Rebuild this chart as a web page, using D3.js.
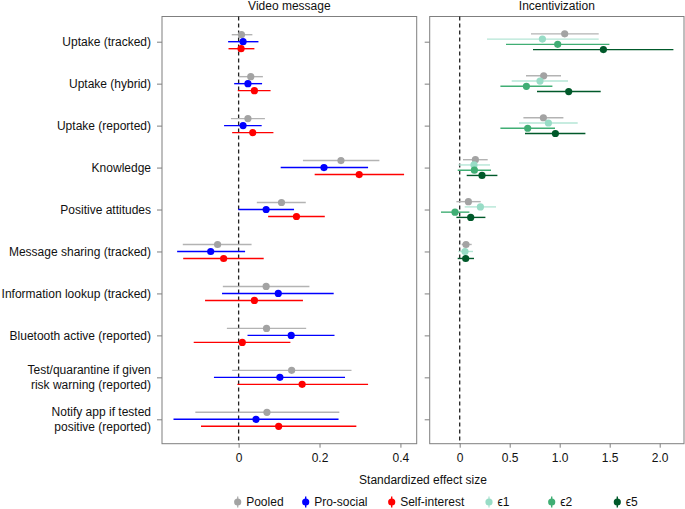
<!DOCTYPE html>
<html>
<head>
<meta charset="utf-8">
<script src="https://cdn.jsdelivr.net/npm/d3@7"></script>
<style>
  html, body { margin: 0; padding: 0; background: #fff; }
  svg { display: block; font-family: "Liberation Sans", Arial, Helvetica, sans-serif; }
</style>
</head>
<body>
<svg id="chart" width="685" height="509"></svg>
<script>
// ---------------- DATA ----------------
const categories = [
  "Uptake (tracked)", "Uptake (hybrid)", "Uptake (reported)", "Knowledge",
  "Positive attitudes", "Message sharing (tracked)", "Information lookup (tracked)",
  "Bluetooth active (reported)", "Test/quarantine if given\nrisk warning (reported)",
  "Notify app if tested\npositive (reported)"
];

// [estimate, lower, upper] per category
const videoPooled = [
  [0.007, -0.017, 0.034], [0.030, 0.000, 0.060], [0.023, -0.019, 0.065],
  [0.253, 0.159, 0.348], [0.106, 0.045, 0.166], [-0.052, -0.138, 0.032],
  [0.068, -0.039, 0.175], [0.069, -0.029, 0.167], [0.131, -0.016, 0.279],
  [0.070, -0.107, 0.249]
];
const videoProSocial = [
  [0.011, -0.026, 0.049], [0.023, -0.011, 0.058], [0.011, -0.036, 0.057],
  [0.211, 0.104, 0.320], [0.068, -0.001, 0.137], [-0.069, -0.152, 0.016],
  [0.098, -0.041, 0.235], [0.130, 0.022, 0.237], [0.102, -0.061, 0.263],
  [0.043, -0.161, 0.247]
];
const videoSelfInterest = [
  [0.006, -0.025, 0.039], [0.039, -0.002, 0.079], [0.035, -0.016, 0.086],
  [0.298, 0.188, 0.409], [0.143, 0.073, 0.213], [-0.037, -0.137, 0.062],
  [0.039, -0.083, 0.159], [0.009, -0.111, 0.128], [0.157, -0.003, 0.320],
  [0.099, -0.093, 0.291]
];

const incPooled = [
  [1.05, 0.713, 1.39], [0.84, 0.663, 1.013], [0.837, 0.637, 1.037],
  [0.157, 0.033, 0.28], [0.087, -0.033, 0.21], [0.063, 0.02, 0.12],
  null, null, null, null
];
const incE1 = [
  [0.827, 0.273, 1.39], [0.803, 0.52, 1.083], [0.887, 0.593, 1.18],
  [0.143, -0.013, 0.303], [0.207, 0.05, 0.363], [0.053, -0.013, 0.133],
  null, null, null, null
];
const incE2 = [
  [0.98, 0.463, 1.497], [0.667, 0.407, 0.927], [0.68, 0.407, 0.953],
  [0.147, -0.02, 0.313], [-0.047, -0.187, 0.097], null,
  null, null, null, null
];
const incE5 = [
  [1.437, 0.733, 2.137], [1.09, 0.773, 1.41], [0.957, 0.653, 1.257],
  [0.223, 0.07, 0.377], [0.11, -0.033, 0.257], [0.06, -0.02, 0.143],
  null, null, null, null
];

const seriesNames = ["Pooled", "Pro-social", "Self-interest", "\u03f51", "\u03f52", "\u03f55"];
const videoTicks = [0, 0.2, 0.4];
const videoTickLabels = ["0", "0.2", "0.4"];
const incTicks = [0, 0.5, 1.0, 1.5, 2.0];
const incTickLabels = ["0", "0.5", "1.0", "1.5", "2.0"];

// ---------------- STYLE ----------------
const pointColor = {
  "Pooled": "#a3a3a3", "Pro-social": "#0000ff", "Self-interest": "#ff0000",
  "\u03f51": "#98dcc6", "\u03f52": "#40ae74", "\u03f55": "#00592a"
};
const barColor = {
  "Pooled": "#b3b3b3", "Pro-social": "#0000ff", "Self-interest": "#ff0000",
  "\u03f51": "#b5e6d6", "\u03f52": "#40ae74", "\u03f55": "#00592a"
};

const svg = d3.select("#chart");
const plotTop = 16.5, plotBottom = 443.7;
const y = d3.scalePoint().domain(d3.range(categories.length)).range([41.7, 419.3]);
const dodge = 21;
const frameColor = "#7f7f7f";
const fs = 12;

function panel(cfg) {
  const g = svg.append("g");
  const x = d3.scaleLinear().domain(cfg.domain).range([cfg.left, cfg.right]);

  // frame
  g.append("rect").attr("x", cfg.left).attr("y", plotTop)
    .attr("width", cfg.right - cfg.left).attr("height", plotBottom - plotTop)
    .attr("fill", "none").attr("stroke", frameColor).attr("stroke-width", 1);

  // title
  g.append("text").attr("x", (cfg.left + cfg.right) / 2).attr("y", 9.5)
    .attr("text-anchor", "middle").attr("font-size", fs).attr("fill", "#111")
    .text(cfg.title);

  // x axis
  const xAxis = d3.axisBottom(x).tickValues(cfg.ticks)
    .tickFormat((d, i) => cfg.tickLabels[i]).tickSize(4).tickSizeOuter(0).tickPadding(6);
  const ax = g.append("g").attr("transform", `translate(0,${plotBottom})`).call(xAxis);
  ax.select(".domain").remove();
  ax.selectAll(".tick line").attr("stroke", frameColor);
  ax.selectAll(".tick text").attr("font-size", fs).attr("fill", "#111")
    .attr("font-family", "Liberation Sans, Arial, sans-serif");

  // y ticks
  const yAxis = d3.axisLeft(y).tickSize(5).tickSizeOuter(0).tickPadding(6)
    .tickFormat(() => "");
  const ay = g.append("g").attr("transform", `translate(${cfg.left},0)`).call(yAxis);
  ay.select(".domain").remove();
  ay.selectAll(".tick line").attr("stroke", frameColor);
  ay.selectAll(".tick text").remove();

  if (cfg.labels) {
    categories.forEach((c, i) => {
      const lines = c.split("\n");
      const t = g.append("text").attr("text-anchor", "end").attr("font-size", fs)
        .attr("fill", "#111");
      const lh = 15;
      lines.forEach((ln, k) => {
        t.append("tspan").attr("x", cfg.left - 11)
          .attr("y", y(i) + 4.3 + (k - (lines.length - 1) / 2) * lh).text(ln);
      });
    });
  }

  // zero dashed line
  g.append("line").attr("x1", x(0)).attr("x2", x(0)).attr("y1", plotTop).attr("y2", plotBottom)
    .attr("stroke", "#222").attr("stroke-width", 1.3).attr("stroke-dasharray", "4,3");

  // marks
  categories.forEach((c, i) => {
    const present = cfg.series.filter(s => s.data[i]);
    const n = present.length;
    present.forEach((s, k) => {
      const d = s.data[i];
      const yy = y(i) + (k - (n - 1) / 2) * (dodge / n);
      g.append("line").attr("x1", x(d[1])).attr("x2", x(d[2]))
        .attr("y1", yy).attr("y2", yy)
        .attr("stroke", barColor[s.name]).attr("stroke-width", 1.4);
    });
    present.forEach((s, k) => {
      const d = s.data[i];
      const yy = y(i) + (k - (n - 1) / 2) * (dodge / n);
      g.append("circle").attr("cx", x(d[0])).attr("cy", yy).attr("r", 3.6)
        .attr("fill", pointColor[s.name]);
    });
  });
}

panel({
  left: 162, right: 416.7, domain: [-0.1894, 0.4402], title: "Video message",
  ticks: videoTicks, tickLabels: videoTickLabels, labels: true,
  series: [
    { name: seriesNames[0], data: videoPooled },
    { name: seriesNames[1], data: videoProSocial },
    { name: seriesNames[2], data: videoSelfInterest }
  ]
});
panel({
  left: 429.7, right: 684, domain: [-0.30, 2.243], title: "Incentivization",
  ticks: incTicks, tickLabels: incTickLabels, labels: false,
  series: [
    { name: seriesNames[0], data: incPooled },
    { name: seriesNames[3], data: incE1 },
    { name: seriesNames[4], data: incE2 },
    { name: seriesNames[5], data: incE5 }
  ]
});

// axis title
svg.append("text").attr("x", 423).attr("y", 484.3).attr("text-anchor", "middle")
  .attr("font-size", fs).attr("fill", "#111").text("Standardized effect size");

// legend
const legendX = [237.7, 305.7, 391.7, 489, 551.7, 617.3];
const ly = 502;
seriesNames.forEach((s, i) => {
  const lg = svg.append("g");
  lg.append("line").attr("x1", legendX[i]).attr("x2", legendX[i])
    .attr("y1", ly - 5.5).attr("y2", ly + 5.5)
    .attr("stroke", barColor[s]).attr("stroke-width", 1.4);
  lg.append("circle").attr("cx", legendX[i]).attr("cy", ly).attr("r", 3.6)
    .attr("fill", pointColor[s]);
  lg.append("text").attr("x", legendX[i] + 8.5).attr("y", ly + 4.3)
    .attr("font-size", fs).attr("fill", "#111").text(s);
});
</script>
</body>
</html>
